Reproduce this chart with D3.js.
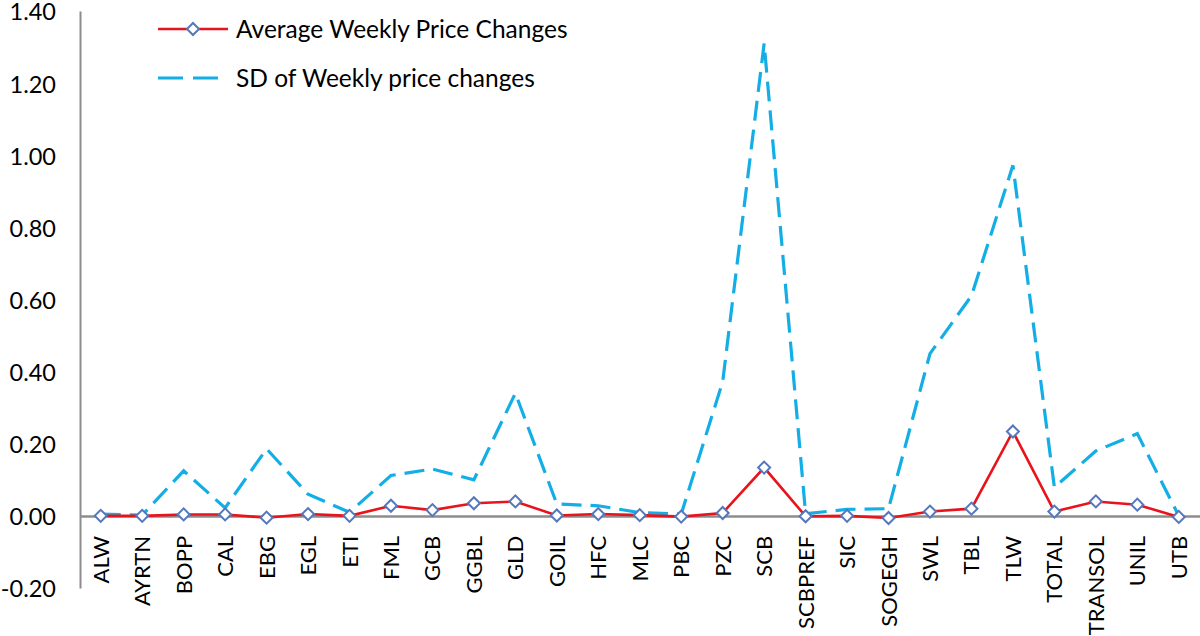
<!DOCTYPE html>
<html><head><meta charset="utf-8">
<script src="https://cdn.jsdelivr.net/npm/d3@7"></script>
<style>body{margin:0;background:#fff}svg{display:block}text{font-family:Lato,"Open Sans",sans-serif;fill:#000}</style>
</head><body><svg id="c" width="1200" height="636"></svg>
<script>
const categories = ["ALW","AYRTN","BOPP","CAL","EBG","EGL","ETI","FML","GCB","GGBL","GLD","GOIL","HFC","MLC","PBC","PZC","SCB","SCBPREF","SIC","SOGEGH","SWL","TBL","TLW","TOTAL","TRANSOL","UNIL","UTB"];
const avgChanges = [0.000,0.000,0.004,0.004,-0.005,0.005,0.000,0.028,0.016,0.035,0.040,0.001,0.005,0.002,-0.002,0.008,0.134,-0.001,0.000,-0.006,0.012,0.020,0.234,0.012,0.040,0.031,-0.003];
const sdChanges = [0.005,0.002,0.125,0.022,0.186,0.060,0.010,0.112,0.130,0.100,0.340,0.033,0.028,0.009,0.005,0.372,1.310,0.006,0.018,0.020,0.450,0.610,0.972,0.079,0.180,0.228,0.000];
const yTicks = [-0.2,0,0.2,0.4,0.6,0.8,1.0,1.2,1.4];
const seriesNames = ["Average Weekly Price Changes","SD of Weekly price changes"];

const svg = d3.select("#c");
const x = d3.scaleBand().domain(categories).range([80,1199.5]);
const cx = d => x(d) + x.bandwidth()/2;
const y = d3.scaleLinear().domain([-0.2,1.4]).range([588,11]);
const fs = 24.5;

// y axis
const yAxis = d3.axisLeft(y).tickValues(yTicks).tickSize(0).tickPadding(24).tickFormat(d => d.toFixed(2));
const ga = svg.append("g").attr("transform","translate(80,0)").call(yAxis);
ga.select(".domain").attr("stroke","#8c8c8c").attr("stroke-width",2);
ga.selectAll("text").style("font-size","23.5px").attr("fill","#000").attr("dy","0.38em");

// x axis at zero
const xAxis = d3.axisBottom(x).tickSize(0).tickPadding(0);
const gx = svg.append("g").attr("transform",`translate(0,${y(0)})`).call(xAxis);
gx.select(".domain").attr("stroke","#8c8c8c").attr("stroke-width",2.5);
gx.selectAll("text").style("font-size","22px").attr("fill","#000")
  .attr("text-anchor","end").attr("dy",null)
  .attr("transform","translate(8,20) rotate(-90)").attr("x",0).attr("y",0);

// SD line
const line = d3.line().x((d,i)=>cx(categories[i])).y(d=>y(d));
svg.append("path").datum(sdChanges).attr("d",line).attr("fill","none")
  .attr("stroke","#14aee6").attr("stroke-width",3.2).attr("stroke-dasharray","20,9");

// Average line
svg.append("path").datum(avgChanges).attr("d",line).attr("fill","none")
  .attr("stroke","#e8141c").attr("stroke-width",2.6);
svg.selectAll(".mk").data(avgChanges).enter().append("path")
  .attr("d", d3.symbol().type(d3.symbolSquare).size(72))
  .attr("transform",(d,i)=>`translate(${cx(categories[i])},${y(d)}) rotate(45)`)
  .attr("fill","#fff").attr("stroke","#5577bb").attr("stroke-width",2);

// legend
const lg = svg.append("g");
lg.append("line").attr("x1",158).attr("x2",228).attr("y1",29).attr("y2",29).attr("stroke","#e8141c").attr("stroke-width",2.6);
lg.append("path").attr("d",d3.symbol().type(d3.symbolSquare).size(72)).attr("transform","translate(193,29) rotate(45)")
  .attr("fill","#fff").attr("stroke","#5577bb").attr("stroke-width",2);
lg.append("text").attr("x",236).attr("y",38).style("font-size",fs+"px").text(seriesNames[0]);
lg.append("line").attr("x1",158).attr("x2",222).attr("y1",78).attr("y2",78).attr("stroke","#14aee6").attr("stroke-width",3.2).attr("stroke-dasharray","25,10");
lg.append("text").attr("x",236).attr("y",87).style("font-size",fs+"px").text(seriesNames[1]);
</script></body></html>
